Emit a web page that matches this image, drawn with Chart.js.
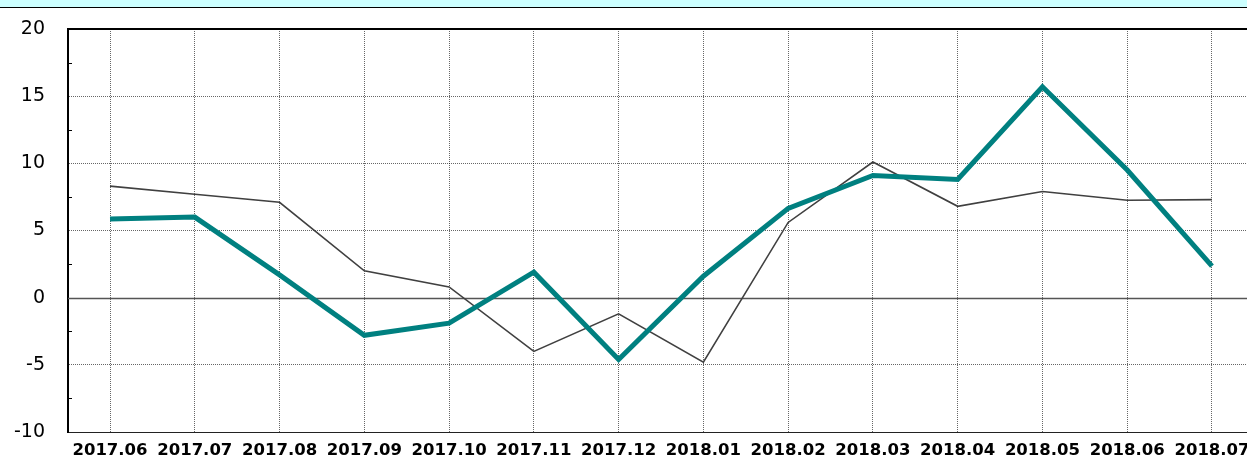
<!DOCTYPE html>
<html>
<head>
<meta charset="utf-8">
<script src="https://cdn.jsdelivr.net/npm/chart.js@4.4.1/dist/chart.umd.min.js"></script>
<style>
html,body{margin:0;padding:0;background:#fff;}
#wrap{width:1247px;height:459px;}
canvas{display:block;}
</style>
</head>
<body>
<div id="wrap"><canvas id="c" width="1247" height="459"></canvas></div>
<script>
const labels = ['2017.06','2017.07','2017.08','2017.09','2017.10','2017.11','2017.12','2018.01','2018.02','2018.03','2018.04','2018.05','2018.06','2018.07'];
const tealValues = [5.85, 6.0, 1.7, -2.8, -1.9, 1.9, -4.6, 1.6, 6.65, 9.1, 8.8, 15.7, 9.5, 2.35];
const grayValues = [8.3, 7.7, 7.1, 2.0, 0.8, -4.0, -1.2, -4.8, 5.6, 10.1, 6.8, 7.9, 7.25, 7.3];
const yTicks = [-10, -5, 0, 5, 10, 15, 20];
const yMinorTicks = [-7.5, -2.5, 2.5, 7.5, 12.5, 17.5];

const decor = {
  id: 'decor',
  beforeDraw(chart) {
    const ctx = chart.ctx;
    ctx.save();
    ctx.fillStyle = '#ffffff';
    ctx.fillRect(0, 0, chart.width, chart.height);
    ctx.fillStyle = '#ccffff';
    ctx.fillRect(0, 0, chart.width, 7);
    ctx.fillStyle = '#000000';
    ctx.fillRect(0, 7, chart.width, 1);
    ctx.restore();
  },
  beforeDatasetsDraw(chart) {
    const ctx = chart.ctx, a = chart.chartArea, y = chart.scales.y;
    const py = Math.round(y.getPixelForValue(0)) + 0.5;
    ctx.save();
    ctx.strokeStyle = '#555';
    ctx.lineWidth = 1.5;
    ctx.beginPath();
    ctx.moveTo(a.left, py);
    ctx.lineTo(a.right, py);
    ctx.stroke();
    ctx.restore();
  },
  afterDraw(chart) {
    const ctx = chart.ctx, a = chart.chartArea, y = chart.scales.y;
    ctx.save();
    ctx.strokeStyle = '#000';
    ctx.lineWidth = 1;
    yMinorTicks.forEach(v => {
      const py = Math.round(y.getPixelForValue(v)) + 0.5;
      ctx.beginPath();
      ctx.moveTo(a.left, py);
      ctx.lineTo(a.left + 4, py);
      ctx.stroke();
    });
    ctx.fillStyle = '#000';
    ctx.fillRect(a.left - 1, Math.round(a.top) - 1, a.right - a.left + 1, 2);
    ctx.restore();
  }
};

new Chart(document.getElementById('c'), {
  type: 'line',
  data: {
    datasets: [
      {
        data: tealValues.map((v, i) => ({x: i, y: v})),
        borderColor: '#008080',
        borderWidth: 5,
        pointRadius: 0,
        tension: 0,
        fill: false
      },
      {
        data: grayValues.map((v, i) => ({x: i, y: v})),
        borderColor: '#404040',
        borderWidth: 1.6,
        pointRadius: 0,
        tension: 0,
        fill: false
      }
    ]
  },
  plugins: [decor],
  options: {
    responsive: false,
    animation: false,
    devicePixelRatio: 1,
    layout: {padding: {top: 29, left: 0, right: 0, bottom: 0}},
    plugins: {legend: {display: false}, tooltip: {enabled: false}},
    scales: {
      x: {
        type: 'linear',
        min: -0.4955,
        max: 13.413,
        afterBuildTicks: s => { s.ticks = labels.map((_, i) => ({value: i})); },
        afterFit: s => { s.height = 27; s.paddingLeft = 0; s.paddingRight = 0; },
        ticks: {
          autoSkip: false,
          maxRotation: 0,
          padding: 9,
          color: '#000',
          font: {family: 'DejaVu Sans', size: 16.5, weight: 'bold'},
          callback: v => labels[v]
        },
        grid: {color: 'rgba(0,0,0,0.6)', lineWidth: 1, drawTicks: false},
        border: {display: true, color: '#222', width: 1, dash: [1, 1]}
      },
      y: {
        min: -10,
        max: 20,
        afterBuildTicks: s => { s.ticks = yTicks.map(v => ({value: v})); },
        afterFit: s => { s.width = 68; s.paddingTop = 0; s.paddingBottom = 0; },
        ticks: {
          padding: 23,
          color: '#000',
          font: {family: 'DejaVu Sans', size: 19},
          callback: v => String(v)
        },
        grid: {
          color: c => (c.tick && (c.tick.value === 0 || c.tick.value === 20 || c.tick.value === -10)) ? 'rgba(0,0,0,0)' : 'rgba(0,0,0,0.6)',
          lineWidth: 1,
          drawTicks: false
        },
        border: {display: true, color: '#000', width: 2, dash: [1, 1]}
      }
    }
  }
});
</script>
</body>
</html>
